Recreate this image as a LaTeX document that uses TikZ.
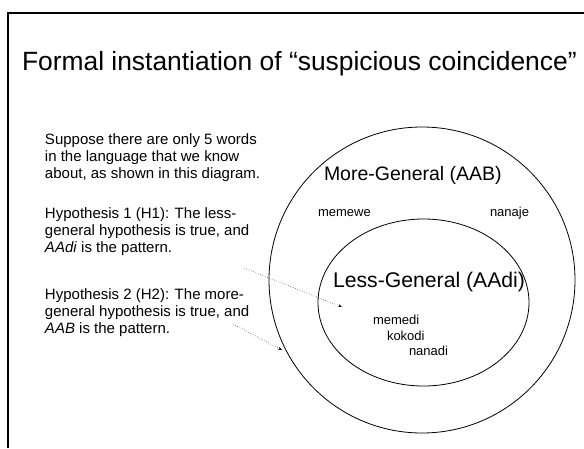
\documentclass[tikz,border=0pt]{standalone}
\usepackage{fontspec}
\setmainfont{Liberation Sans}
\usetikzlibrary{arrows.meta}
\begin{document}
\begin{tikzpicture}[x=1pt,y=-1pt,
    every node/.style={inner sep=0pt,outer sep=0pt},
    bodytext/.style={anchor=north west,align=left,font=\fontsize{15}{17}\selectfont},
    wordtext/.style={anchor=base west,font=\fontsize{13}{13}\selectfont},
    pointer/.style={dotted,line width=0.5pt,-{Stealth[length=4pt,width=3pt]}}]
    \useasboundingbox (0,0) rectangle (584,448);

    % Slide frame (cut off at the right and bottom)
    \draw[line width=2pt] (8,448) -- (8,13) -- (584,13);

    % Title
    \node[anchor=base west,font=\fontsize{26.4}{26.4}\selectfont] (title) at (22,70)
        {Formal instantiation of ``suspicious coincidence''};

    % Explanations on the left
    \node[bodytext] (intro) at (45,134) {Suppose there are only 5 words\\
        in the language that we know\\
        about, as shown in this diagram.};
    \node[bodytext] (hypone) at (45,208) {Hypothesis 1 (H1): The less-\\
        general hypothesis is true, and\\
        \textit{AAdi} is the pattern.};
    \node[bodytext] (hyptwo) at (45,289) {Hypothesis 2 (H2): The more-\\
        general hypothesis is true, and\\
        \textit{AAB} is the pattern.};

    % The two sets of words
    \draw[line width=0.8pt] (422,280) circle (153);
    \draw[line width=0.8pt] (423.5,302.5) ellipse (105.5 and 83.5);

    \node[anchor=base west,font=\fontsize{19.5}{19.5}\selectfont] (moregen) at (324,180) {More-General (AAB)};
    \node[anchor=base west,font=\fontsize{21.2}{21.2}\selectfont] (lessgen) at (333,287) {Less-General (AAdi)};

    \node[wordtext] (memewe) at (318,216) {memewe};
    \node[wordtext] (nanaje) at (490,216) {nanaje};
    \node[wordtext] (memedi) at (373,324) {memedi};
    \node[wordtext] (kokodi) at (387,340) {kokodi};
    \node[wordtext] (nanadi) at (409,355) {nanadi};

    % Pointers from the hypotheses into the diagram
    \coordinate (hyponestart) at (244,268);
    \coordinate (hyponeend) at (342,307);
    \coordinate (hyptwostart) at (233,324);
    \coordinate (hyptwoend) at (282,350);
    \draw[pointer] (hyponestart) -- (hyponeend);
    \draw[pointer] (hyptwostart) -- (hyptwoend);
\end{tikzpicture}
\end{document}
